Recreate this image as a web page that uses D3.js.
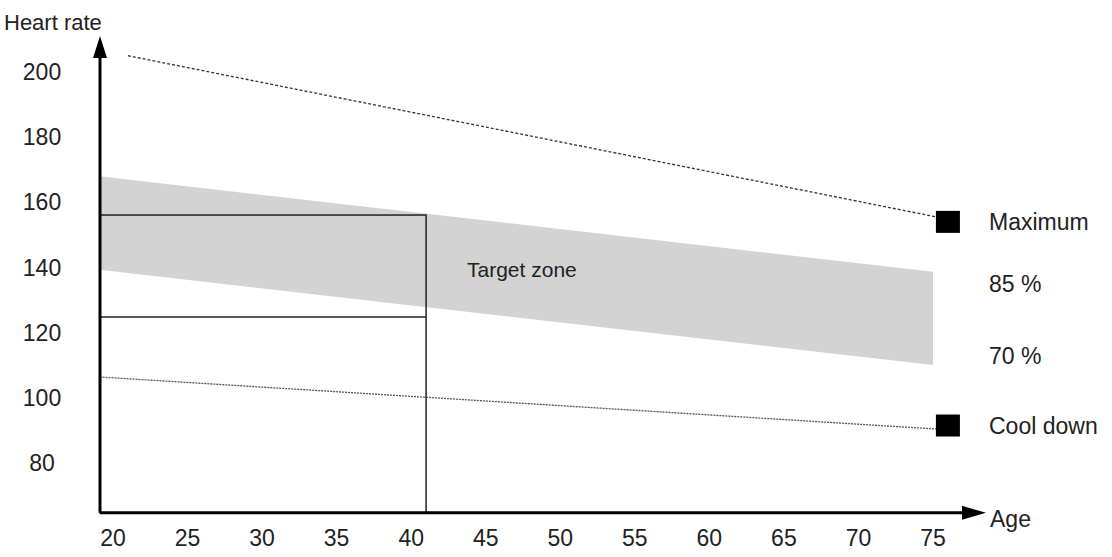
<!DOCTYPE html>
<html><head><meta charset="utf-8">
<script src="https://cdn.jsdelivr.net/npm/d3@7"></script>
<style>body{margin:0;background:#fff}text{font-family:"Liberation Sans",Arial,sans-serif;fill:#222}</style>
</head><body><svg id="svg"></svg>
<script>
const WIDTH = 1112, HEIGHT = 557;
const xTicks = [20,25,30,35,40,45,50,55,60,65,70,75];
const yTicks = [80,100,120,140,160,180,200];
const maxLine = [[21,205],[75.8,155]];
const coolLine = [[19.1,106.4],[76,90.2]];
const bandAge = [19.1,75];
const bandTop = [168,138.7];
const bandBottom = [139.3,110.1];
const boxAge = 41, boxTop = 156.1, boxMid = 124.8;
const markers = [[76.0,154],[76.0,91.5]];
const sideLabels = [["Maximum",154],["85 %",135],["70 %",113],["Cool down",91.5]];

const svg = d3.select('#svg').attr('width',WIDTH).attr('height',HEIGHT);
const x = d3.scaleLinear().domain([20,75]).range([113,933]);
const y = d3.scaleLinear().domain([80,200]).range([463,72]);
const x0 = 100, yBase = y(64.7);

const band = bandAge.map((a,i)=>({a,t:bandTop[i],b:bandBottom[i]}));
svg.append('path').datum(band).attr('fill','#d3d3d3')
  .attr('d',d3.area().x(d=>x(d.a)).y0(d=>y(d.b)).y1(d=>y(d.t)));

const line = d3.line().x(d=>x(d[0])).y(d=>y(d[1]));
svg.append('path').datum(maxLine).attr('d',line).attr('stroke','#333').attr('stroke-width',1.3).attr('stroke-dasharray','3,2').attr('fill','none');
svg.append('path').datum(coolLine).attr('d',line).attr('stroke','#555').attr('stroke-width',1.3).attr('stroke-dasharray','2,1').attr('fill','none');

const g = svg.append('g').attr('stroke','#222').attr('stroke-width',1.5).attr('fill','none');
g.append('rect').attr('x',x0).attr('y',y(boxTop)).attr('width',x(boxAge)-x0).attr('height',yBase-y(boxTop));
g.append('line').attr('x1',x0).attr('x2',x(boxAge)).attr('y1',y(boxMid)).attr('y2',y(boxMid));

// axes
svg.append('line').attr('x1',x0).attr('x2',x0).attr('y1',yBase).attr('y2',50).attr('stroke','#000').attr('stroke-width',3);
svg.append('line').attr('x1',x0).attr('x2',970).attr('y1',yBase).attr('y2',yBase).attr('stroke','#000').attr('stroke-width',3);
svg.append('path').attr('d',`M${x0-7},58 L${x0},36 L${x0+7},58 Z`).attr('fill','#000');
svg.append('path').attr('d',`M962,${yBase-7} L986,${yBase} L962,${yBase+7} Z`).attr('fill','#000');

svg.selectAll('.yt').data(yTicks).join('text').attr('x',42).attr('y',d=>y(d)).attr('dy','0.35em')
  .attr('text-anchor','middle').attr('font-size',23).text(d=>d);
svg.selectAll('.xt').data(xTicks).join('text').attr('x',d=>x(d)).attr('y',546)
  .attr('text-anchor','middle').attr('font-size',23).text(d=>d);

svg.selectAll('.mk').data(markers).join('rect').attr('x',d=>x(d[0])-12).attr('y',d=>y(d[1])-11)
  .attr('width',24).attr('height',22).attr('fill','#000');
svg.selectAll('.sl').data(sideLabels).join('text').attr('x',989).attr('y',d=>y(d[1])).attr('dy','0.35em')
  .attr('font-size',23).text(d=>d[0]);

svg.append('text').attr('x',467).attr('y',270).attr('dy','0.35em').attr('font-size',21).text('Target zone');
svg.append('text').attr('x',4).attr('y',30).attr('font-size',22).text('Heart rate');
svg.append('text').attr('x',990).attr('y',527).attr('font-size',23).text('Age');
</script></body></html>
